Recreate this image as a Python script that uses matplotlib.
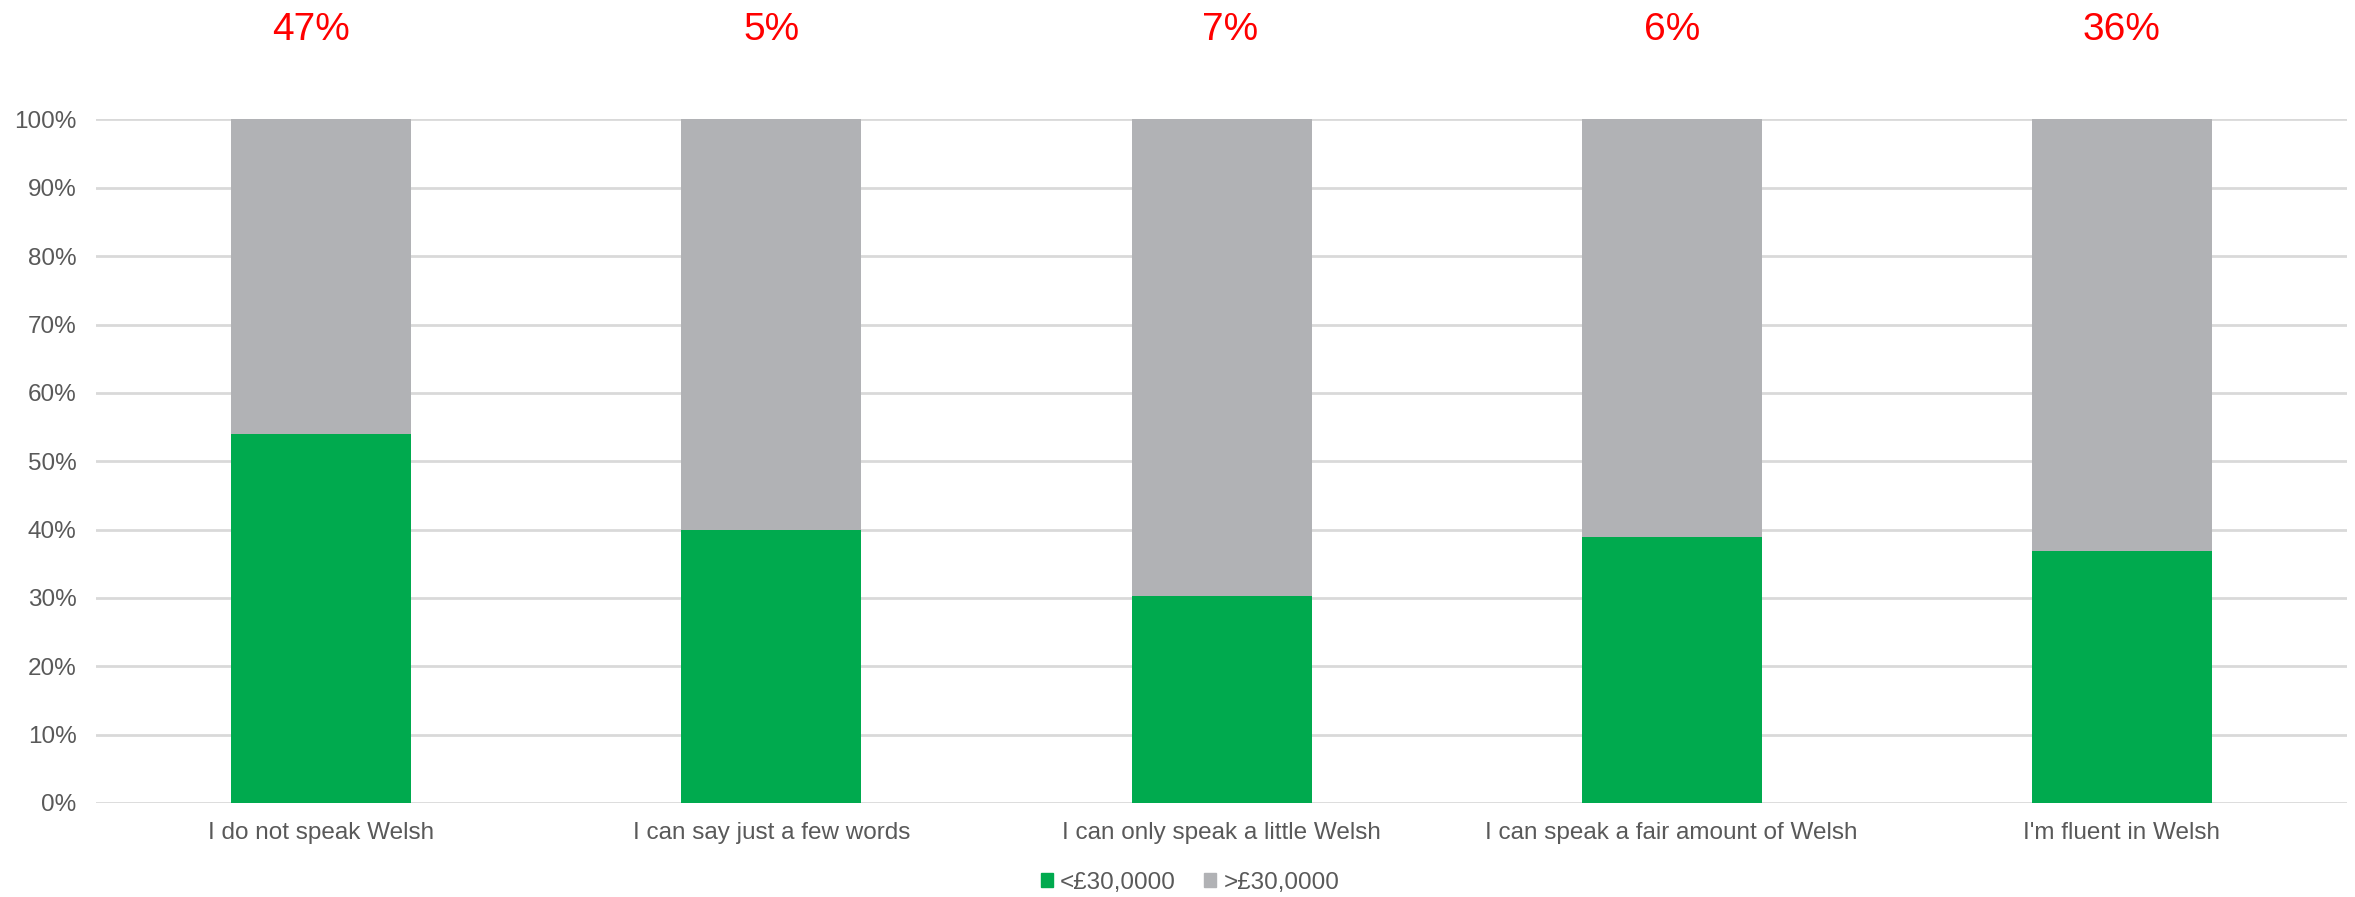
import matplotlib
matplotlib.use("Agg")
import matplotlib.pyplot as plt
from matplotlib.transforms import blended_transform_factory
from matplotlib.patches import Patch

plt.rcParams['font.family'] = ['Liberation Sans', 'DejaVu Sans']

categories = ["I do not speak Welsh", "I can say just a few words",
              "I can only speak a little Welsh", "I can speak a fair amount of Welsh",
              "I'm fluent in Welsh"]
below_30k = [0.54, 0.40, 0.303, 0.389, 0.369]
above_30k = [1 - v for v in below_30k]
share_labels = ["47%", "5%", "7%", "6%", "36%"]
series_names = ["<£30,0000", ">£30,0000"]
yticks = [i / 10 for i in range(11)]

green = "#00AA4E"
grey = "#B1B2B5"
text_col = "#595959"

fig = plt.figure(figsize=(23.55, 8.97), dpi=100)
ax = fig.add_axes([0.0408, 0.1048, 0.9558, 0.762])

x = list(range(len(categories)))
ax.bar(x, below_30k, width=0.4, color=green, zorder=3, label=series_names[0])
ax.bar(x, above_30k, width=0.4, bottom=below_30k, color=grey, zorder=3, label=series_names[1])

ax.set_xlim(-0.5, len(categories) - 0.5)
ax.set_ylim(0, 1)
ax.set_yticks(yticks)
ax.set_yticklabels([f"{int(round(t*100))}%" for t in yticks], fontsize=17.5, color=text_col)
ax.set_xticks(x)
ax.set_xticklabels(categories, fontsize=17.5, color=text_col)
ax.tick_params(axis='both', length=0)
ax.tick_params(axis='y', pad=14)
ax.tick_params(axis='x', pad=14)
ax.grid(axis='y', color="#D9D9D9", linewidth=2, zorder=0)
for s in ax.spines.values():
    s.set_visible(False)

# small manual nudges of the share labels (as in the original layout)
label_dx = [-0.022, 0.0, 0.02, 0.0, 0.0]
trans = blended_transform_factory(ax.transData, fig.transFigure)
for xi, lab, dx in zip(x, share_labels, label_dx):
    ax.text(xi + dx, 1 - 40 / 897, lab, transform=trans, ha='center', va='baseline',
            color='#FF0000', fontsize=28)

handles = [Patch(color=green), Patch(color=grey)]
fig.legend(handles, series_names, loc='center', bbox_to_anchor=(0.5053, 1 - 883 / 897),
           ncol=2, frameon=False, fontsize=17.5, handlelength=0.5, handleheight=0.5,
           handletextpad=0.3, columnspacing=1.15, labelcolor=text_col)

fig.savefig("out.png", dpi=100)
